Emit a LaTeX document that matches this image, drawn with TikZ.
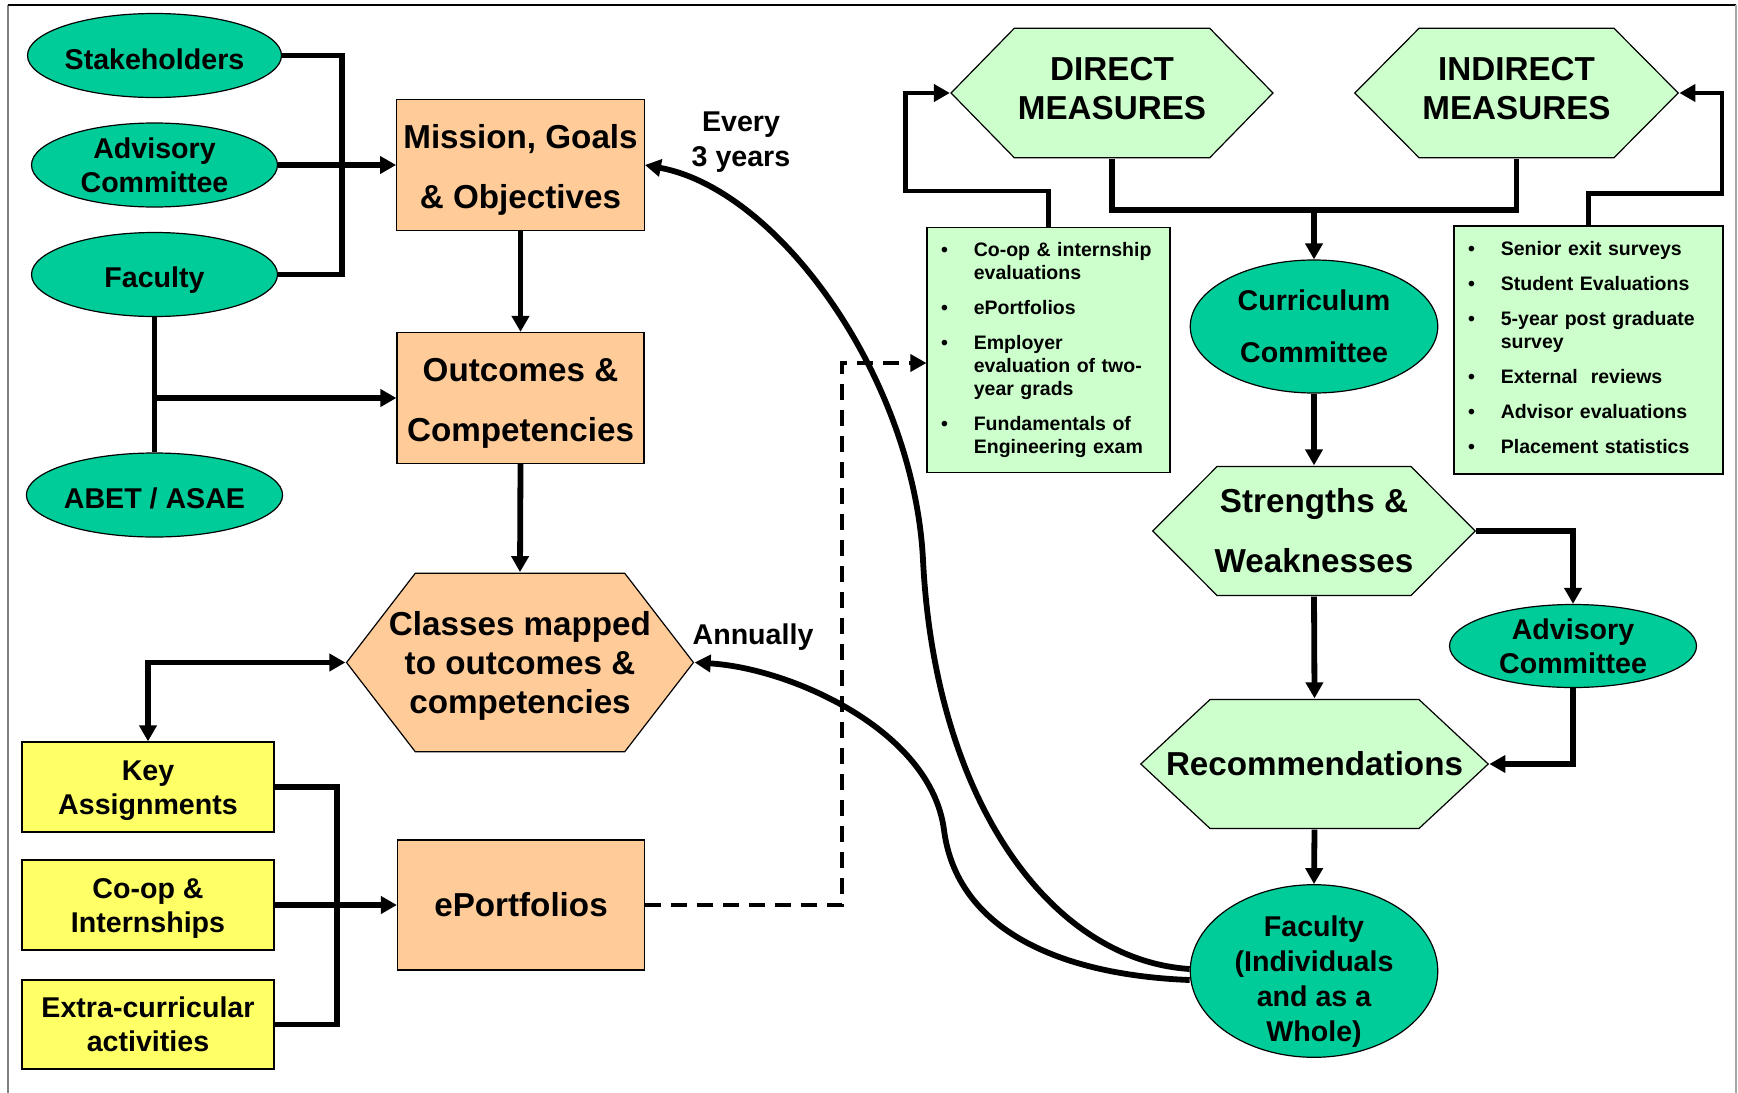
\documentclass[tikz,border=0pt]{standalone}
\usepackage{fontspec}
\setmainfont{Liberation Sans}
\usetikzlibrary{arrows.meta, shapes.geometric, positioning}

\definecolor{ovalgreen}{HTML}{00CC99}
\definecolor{boxorange}{HTML}{FFCC99}
\definecolor{hexgreen}{HTML}{CCFFCC}
\definecolor{boxyellow}{HTML}{FFFF66}

% invisible struts to nudge text inside a node
\newcommand{\strutup}[1]{\rule{0pt}{#1}}
\newcommand{\strutdown}[1]{\rule[-#1]{0pt}{#1}}

\tikzset{
  >={Triangle[length=8pt,width=8.5pt]}, % solid arrow heads
  link/.style={line width=2.9pt}, % plain thick connector
  flow/.style={link, ->},
  loopback/.style={line width=2.2pt, ->},
  dashlink/.style={line width=1.8pt, dash pattern=on 8pt off 5pt, ->},
  mid font/.style={font=\bfseries\fontsize{14.3pt}{#1}\selectfont},
  big font/.style={font=\bfseries\fontsize{16.6pt}{#1}\selectfont},
  oval/.style={ellipse, draw, line width=0.6pt, fill=ovalgreen, inner sep=0pt,
    minimum width=123pt, minimum height=42pt, align=center, mid font=17pt},
  orange box/.style={rectangle, draw, line width=0.6pt, fill=boxorange,
    minimum width=123.5pt, minimum height=65.5pt, align=center, big font=30pt},
  yellow box/.style={rectangle, draw, line width=0.9pt, fill=boxyellow,
    minimum width=126pt, minimum height=44.75pt, inner sep=0pt, align=center, mid font=17pt},
  hexa/.style 2 args={rectangle, inner sep=0pt, fill=white, align=center,
    path picture={
      \draw[fill=#2, line width=0.6pt]
        ([shift={(#1,-0.4pt)}]path picture bounding box.north west)
        -- ([shift={(-#1,-0.4pt)}]path picture bounding box.north east)
        -- ([xshift=-0.4pt]path picture bounding box.east)
        -- ([shift={(-#1,0.4pt)}]path picture bounding box.south east)
        -- ([shift={(#1,0.4pt)}]path picture bounding box.south west)
        -- ([xshift=0.4pt]path picture bounding box.west) -- cycle;}},
  list box/.style={rectangle, draw, line width=0.6pt, fill=hexgreen, inner xsep=7pt,
    align=left, text width=#1, font=\bfseries\fontsize{9.75pt}{11.5pt}\selectfont},
  note/.style={align=center, mid font=17.5pt},
}

\begin{document}
\begin{tikzpicture}[x=0.5pt, y=-0.5pt]
  \useasboundingbox (0,0) rectangle (1738,1092);
  % frame
  \draw[gray, line width=1pt] (8,1100) -- (8,4.5);
  \draw[line width=1pt] (8,4.5) -- (1736,4.5);
  \draw[gray!70, line width=1pt] (1736,4.5) -- (1736,1100);

  % left column
  \node[oval] (stake) at (154.5,55.5) {\strutup{13.8pt}Stakeholders};
  \node[oval] (advA) at (154.5,165) {Advisory\\Committee};
  \node[oval] (facA) at (154.5,274.5) {\strutup{16pt}Faculty};
  \node[oval] (abet) at (154.5,495) {\strutup{13.8pt}ABET / ASAE};

  \node[orange box] (mission) at (520.5,165) {\strutup{16.5pt}Mission, Goals\\\& Objectives};
  \node[orange box] (outc) at (520.5,398) {\strutup{16.5pt}Outcomes \&\\Competencies};
  \node[hexa={34.75pt}{boxorange}, minimum width=174.25pt, minimum height=90pt,
    big font=19.5pt] (classes) at (520,662.5)
    {\strutup{15pt}Classes mapped\\to outcomes \&\\competencies};
  \node[yellow box] (key) at (148,787) {\strutup{13.8pt}Key\\Assignments};
  \node[yellow box] (coop) at (148,905) {\strutup{13.8pt}Co-op \&\\Internships};
  \node[yellow box] (extra) at (148,1024.5) {Extra-curricular\\activities};
  \node[orange box, minimum height=65pt] (eport) at (521,905) {ePortfolios};

  \node[note] (every) at (741,138.5) {\strutup{13.8pt}Every\\3 years};
  \node[note] (annual) at (753,637) {Annually};

  % measures
  \node[hexa={32pt}{hexgreen}, minimum width=161.75pt, minimum height=65.5pt,
    big font=19.5pt] (direct) at (1112,93) {DIRECT\\MEASURES\strutdown{5pt}};
  \node[hexa={32.5pt}{hexgreen}, minimum width=162.5pt, minimum height=65.5pt,
    big font=19.5pt] (indirect) at (1516.5,93) {INDIRECT\\MEASURES\strutdown{5pt}};

  % right column
  \node[oval, minimum width=123.75pt, minimum height=66.5pt, mid font=26pt] (curric)
    at (1314,326.5) {Curriculum\\Committee};
  \node[hexa={32.5pt}{hexgreen}, minimum width=162pt, minimum height=65.25pt,
    big font=30pt] (strong) at (1314,531) {Strengths \&\\Weaknesses};
  \node[oval, minimum width=123.5pt, minimum height=41.5pt] (advB) at (1573,646) {Advisory\\Committee};
  \node[hexa={35pt}{hexgreen}, minimum width=174.5pt, minimum height=65.25pt,
    big font=19.5pt] (recs) at (1314.5,764) {Recommendations};
  \node[oval, minimum width=123.75pt, minimum height=86.3pt] (facB) at (1314,971) {};
  \node[note] (facBtext) at ([yshift=-5.2pt]facB.center) {Faculty\\(Individuals\\and as a\\Whole)};

  % measure lists
  \node[list box=107.5pt, minimum height=122.25pt] (dirlist) at (1048.5,350) {%
    \begin{tabular}{@{}l@{\hspace{13pt}}l@{}}
      \textbullet & Co-op \& internship\\ & evaluations\\[6pt]
      \textbullet & ePortfolios\\[6pt]
      \textbullet & Employer\\ & evaluation of two-\\ & year grads\\[6pt]
      \textbullet & Fundamentals of\\ & Engineering exam
    \end{tabular}};
  \node[list box=120.5pt, minimum height=124pt] (indlist) at (1588.5,350) {%
    \begin{tabular}{@{}l@{\hspace{13pt}}l@{}}
      \textbullet & Senior exit surveys\\[6pt]
      \textbullet & Student Evaluations\\[6pt]
      \textbullet & 5-year post graduate\\ & survey\\[6pt]
      \textbullet & External~ reviews\\[6pt]
      \textbullet & Advisor evaluations\\[6pt]
      \textbullet & Placement statistics
    \end{tabular}};

  % connectors, left
  \draw[link] (stake.east) -- ++(59.5,0) |- (facA.east);
  \draw[flow] (advA.east) -- (mission.west);
  \draw[link] (facA.south) -- (abet.north);
  \draw[flow] (facA.south |- outc.west) -- (outc.west);
  \draw[flow] (mission.south) -- (outc.north);
  \draw[flow] (outc.south) -- (classes.north);
  \draw[link, <->] (key.north) |- (classes.west);
  \draw[link] (key.east) -- ++(62,0) |- (extra.east);
  \draw[flow] (coop.east) -- (eport.west);

  % ePortfolios feed the direct measures
  \coordinate (dtop) at (842,363);
  \draw[dashlink] (eport.east) -| (dtop) -- (dtop -| dirlist.west);

  % measures
  \draw[link] (direct.south) -- ++(0,51) coordinate (dm) -| (indirect.south);
  \draw[flow] (dm -| curric.north) -- (curric.north);
  \draw[loopback] (dirlist.north) |- ++(-143,-36) |- (direct.west);
  \draw[loopback] (indlist.north) |- ++(133.5,-32) |- (indirect.east);

  % connectors, right
  \draw[flow] (curric.south) -- (strong.north);
  \draw[flow] (strong.east) -| (advB.north);
  \draw[flow] (advB.south) |- (recs.east);
  \draw[flow] (strong.south) -- (recs.north);
  \draw[flow] (recs.south) -- (facB.north);

  % feedback loops
  \draw[link, <-] (mission.east) .. controls (780,190) and (914,380) .. (923,560)
    .. controls (935,800) and (1050,960) .. ([yshift=1pt]facB.west);
  \draw[link, <-] (classes.east) .. controls (790,668) and (931,730) .. (944,830)
    .. controls (957,930) and (1060,975) .. ([yshift=-4.5pt]facB.west);
\end{tikzpicture}
\end{document}
